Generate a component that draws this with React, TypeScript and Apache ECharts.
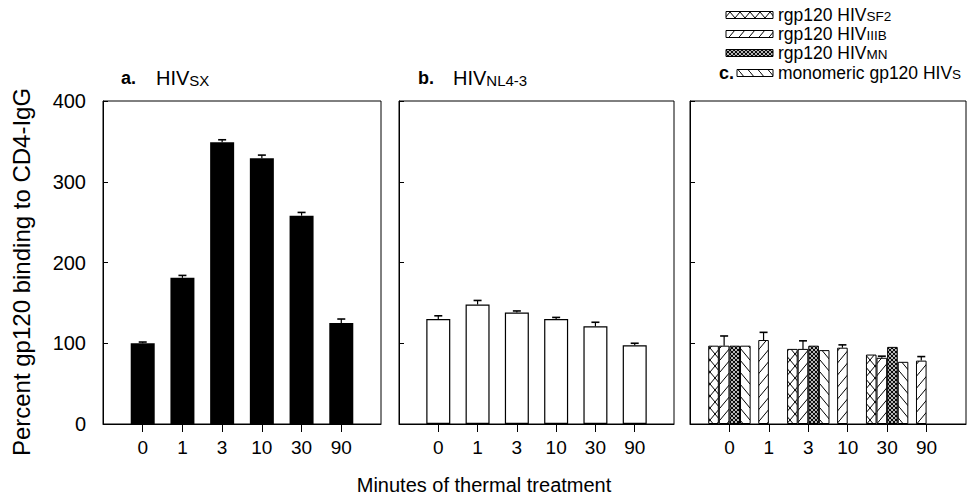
import React, { useEffect, useRef } from 'react';
import * as echarts from 'echarts';

// ---- data ----
const minutes = ['0', '1', '3', '10', '30', '90'];
const positions = [0, 1, 2, 3, 4, 5];
const yTicks = [0, 100, 200, 300, 400];
// panel a: HIV SX
const sxMean = [100, 181, 349, 329, 258, 125];
const sxErr = [1.5, 3, 3, 4, 4, 5];
// panel b: HIV NL4-3
const nlMean = [130, 148, 138, 130, 121, 97.5];
const nlErr = [4, 5, 2, 2, 5, 2.5];
// panel c
const sf2Mean = [97, null, 93, null, 86, null];
const iiibMean = [97, 104, 93, 94.5, 82, 78.5];
const iiibErr = [12, 9.5, 10, 3.5, 2, 5];
const mnMean = [97, null, 97, null, 95.5, null];
const monoMean = [97, null, 91.5, null, 77, null];

const FONT = 'Liberation Sans';

function makeTile(w: number, h: number, draw: (ctx: CanvasRenderingContext2D, w: number, h: number) => void) {
  const c = document.createElement('canvas');
  c.width = w;
  c.height = h;
  const ctx = c.getContext('2d')!;
  ctx.fillStyle = '#fff';
  ctx.fillRect(0, 0, w, h);
  ctx.strokeStyle = '#000';
  ctx.lineWidth = 1;
  draw(ctx, w, h);
  return c;
}

function seg(ctx: CanvasRenderingContext2D, x1: number, y1: number, x2: number, y2: number) {
  ctx.beginPath();
  ctx.moveTo(x1, y1);
  ctx.lineTo(x2, y2);
  ctx.stroke();
}

export default function App() {
  const ref = useRef<HTMLDivElement>(null);
  useEffect(() => {
    if (!ref.current) return;
    const crossTile = makeTile(10, 12, (ctx, w, h) => {
      seg(ctx, -1, -1.2, w + 1, h + 1.2);
      seg(ctx, -1, h + 1.2, w + 1, -1.2);
    });
    const fwdTile = makeTile(10, 12, (ctx, w, h) => {
      seg(ctx, -1, h + 1.2, w + 1, -1.2);
    });
    const backTile = makeTile(10, 12, (ctx, w, h) => {
      seg(ctx, -1, -1.2, w + 1, h + 1.2);
    });
    const meshTile = makeTile(4, 4, (ctx, w, h) => {
      ctx.lineWidth = 1.1;
      seg(ctx, -1, -1, w + 1, h + 1);
      seg(ctx, -1, h + 1, w + 1, -1);
    });
    const pat = (c: HTMLCanvasElement) => ({ image: c, repeat: 'repeat' as const });

    const chart = echarts.init(ref.current, undefined, { renderer: 'svg' });
    const panels = [
      { left: 103, width: 278 },
      { left: 399, width: 275 },
      { left: 690, width: 276 },
    ];

    const errorSeries = (xi: number, means: number[], errs: number[], offset: number) => ({
      type: 'custom',
      xAxisIndex: xi,
      yAxisIndex: xi,
      z: 5,
      silent: true,
      encode: { x: 0, y: 1 },
      data: positions.map((p, i) => [p, means[i], errs[i]]),
      renderItem: (params: any, api: any) => {
        const x = api.value(0);
        const m = api.value(1);
        const e = api.value(2);
        const base = api.coord([x, m]);
        const top = api.coord([x, m + e]);
        const cx = base[0] + offset;
        return {
          type: 'group',
          children: [
            { type: 'line', shape: { x1: cx, y1: base[1], x2: cx, y2: top[1] }, style: { stroke: '#000', lineWidth: 1.2 } },
            { type: 'line', shape: { x1: cx - 4, y1: top[1], x2: cx + 4, y2: top[1] }, style: { stroke: '#000', lineWidth: 1.6 } },
          ],
        };
      },
    });

    const toPts = (vals: (number | null)[]) => positions.map((p, i) => [p, vals[i]]);

    const BW = 10.6;
    const patternBar = (vals: (number | null)[], tile: HTMLCanvasElement) => ({
      type: 'bar',
      xAxisIndex: 2,
      yAxisIndex: 2,
      barWidth: BW,
      barGap: '0%',
      data: toPts(vals),
      itemStyle: { color: pat(tile), borderColor: '#000', borderWidth: 1 },
    });

    const legendRows = [
      { y: 15, x: 726, w: 47, tile: crossTile, main: 'rgp120 HIV', sub: 'SF2' },
      { y: 34, x: 726, w: 47, tile: fwdTile, main: 'rgp120 HIV', sub: 'IIIB' },
      { y: 53, x: 726, w: 47, tile: meshTile, main: 'rgp120 HIV', sub: 'MN' },
      { y: 73, x: 737, w: 36, tile: backTile, main: 'monomeric gp120 HIV', sub: 'S' },
    ];

    const titleText = (x: number, y: number, letter: string, main: string, sub: string) => [
      {
        type: 'text',
        x,
        y,
        style: { text: letter, fontSize: 18, fontWeight: 'bold', fontFamily: FONT, fill: '#000', verticalAlign: 'middle' },
      },
      {
        type: 'text',
        x: x + 35,
        y,
        style: {
          text: `{m|${main}}{s|${sub}}`,
          verticalAlign: 'middle',
          rich: {
            m: { fontSize: 20, lineHeight: 20, fontFamily: FONT, fill: '#000', verticalAlign: 'bottom' },
            s: { fontSize: 15, lineHeight: 15, fontFamily: FONT, fill: '#000', verticalAlign: 'bottom' },
          },
        },
      },
    ];

    const graphics: any[] = [
      ...titleText(121, 78, 'a.', 'HIV', 'SX'),
      ...titleText(418, 78, 'b.', 'HIV', 'NL4-3'),
      {
        type: 'text',
        x: 719,
        y: 73,
        style: { text: 'c.', fontSize: 18, fontWeight: 'bold', fontFamily: FONT, fill: '#000', verticalAlign: 'middle' },
      },
      {
        type: 'text',
        x: 21,
        y: 272,
        rotation: Math.PI / 2,
        style: {
          text: 'Percent gp120 binding to CD4-IgG',
          fontSize: 24,
          fontFamily: FONT,
          fill: '#000',
          align: 'center',
          verticalAlign: 'middle',
        },
      },
      {
        type: 'text',
        x: 484,
        y: 485,
        style: {
          text: 'Minutes of thermal treatment',
          fontSize: 20,
          fontFamily: FONT,
          fill: '#000',
          align: 'center',
          verticalAlign: 'middle',
        },
      },
    ];
    legendRows.forEach((r) => {
      graphics.push({
        type: 'rect',
        shape: { x: r.x, y: r.y - 3.5, width: r.w, height: 7 },
        style: { fill: pat(r.tile), stroke: '#000', lineWidth: 1 },
      });
      graphics.push({
        type: 'text',
        x: 778,
        y: r.y,
        style: {
          text: `{m|${r.main}}{s|${r.sub}}`,
          verticalAlign: 'middle',
          rich: {
            m: { fontSize: 17.5, lineHeight: 17.5, fontFamily: FONT, fill: '#000', verticalAlign: 'bottom' },
            s: { fontSize: 13.5, lineHeight: 13.5, fontFamily: FONT, fill: '#000', verticalAlign: 'bottom' },
          },
        },
      });
    });

    chart.setOption({
      animation: false,
      backgroundColor: '#fff',
      grid: panels.map((p) => ({
        left: p.left,
        width: p.width,
        top: 101,
        height: 323,
        show: true,
        borderColor: '#000',
        borderWidth: 1,
        backgroundColor: 'transparent',
      })),
      xAxis: panels.map((p, i) => ({
        gridIndex: i,
        type: 'value',
        min: -1,
        max: 6,
        interval: 1,
        splitLine: { show: false },
        axisLine: { show: true, onZero: false, lineStyle: { color: '#000', width: 1 } },
        axisTick: { show: true, length: 8, customValues: positions, lineStyle: { color: '#000' } },
        axisLabel: {
          customValues: positions,
          formatter: (v: number) => minutes[Math.round(v)] ?? '',
          fontSize: 19,
          fontFamily: FONT,
          color: '#000',
          margin: 14,
        },
      })),
      yAxis: panels.map((p, i) => ({
        gridIndex: i,
        type: 'value',
        min: 0,
        max: 400,
        interval: 100,
        splitLine: { show: false },
        axisLine: { show: true, onZero: false, lineStyle: { color: '#000', width: 1 } },
        axisTick: { show: true, inside: true, length: 5, customValues: yTicks, lineStyle: { color: '#000' } },
        axisLabel: { show: i === 0, fontSize: 20, fontFamily: FONT, color: '#000', margin: 17 },
      })),
      series: [
        {
          type: 'bar',
          xAxisIndex: 0,
          yAxisIndex: 0,
          barWidth: 24,
          data: toPts(sxMean),
          itemStyle: { color: '#000' },
        },
        errorSeries(0, sxMean, sxErr, 0),
        {
          type: 'bar',
          xAxisIndex: 1,
          yAxisIndex: 1,
          barWidth: 24,
          data: toPts(nlMean),
          itemStyle: { color: '#fff', borderColor: '#000', borderWidth: 1.2 },
        },
        errorSeries(1, nlMean, nlErr, 0),
        patternBar(sf2Mean, crossTile),
        patternBar(iiibMean, fwdTile),
        patternBar(mnMean, meshTile),
        patternBar(monoMean, backTile),
        errorSeries(2, iiibMean, iiibErr, -BW / 2),
      ],
      graphic: graphics,
    });
    return () => chart.dispose();
  }, []);
  return <div ref={ref} style={{ position: 'fixed', left: 0, top: 0, width: 976, height: 500 }} />;
}
